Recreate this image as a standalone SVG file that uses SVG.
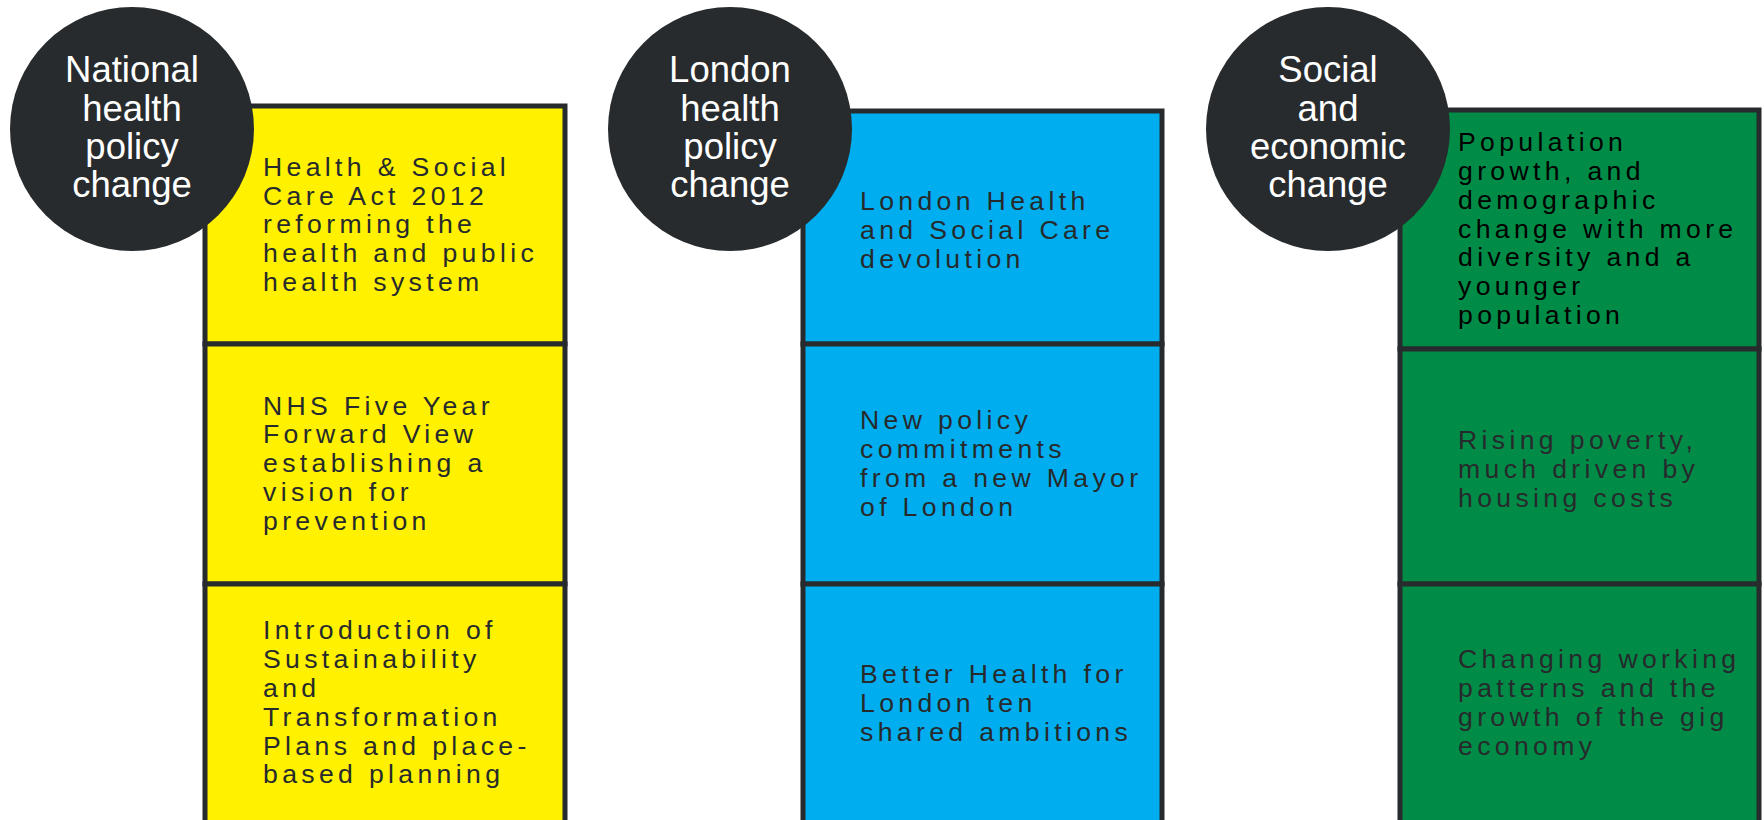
<svg xmlns="http://www.w3.org/2000/svg" width="1764" height="820" viewBox="0 0 1764 820">
<style>
.cell{stroke:#272b2d;stroke-width:5}
.y{fill:#FFF100}
.b{fill:#00AEEF}
.g{fill:#008C47}
.circ{fill:#272b2d}
.ct{font-family:"Liberation Sans",Arial,sans-serif;font-size:36.5px;fill:#ffffff;text-anchor:middle}
.bt{font-family:"Liberation Sans",Arial,sans-serif;font-size:26.6px;letter-spacing:4.35px;fill:#262a2c}
.blk{fill:#000000}
</style>
<rect width="1764" height="820" fill="#ffffff"/>
<g id="col-national">
  <rect class="cell y" x="205" y="106" width="360" height="238"/>
  <rect class="cell y" x="205" y="344" width="360" height="240"/>
  <rect class="cell y" x="205" y="584" width="360" height="250"/>
  <text class="bt" x="263"><tspan x="263" y="176">Health &amp; Social</tspan><tspan x="263" y="204.5">Care Act 2012</tspan><tspan x="263" y="233">reforming the</tspan><tspan x="263" y="261.5">health and public</tspan><tspan x="263" y="290.5">health system</tspan></text>
  <text class="bt"><tspan x="263" y="414.5">NHS Five Year</tspan><tspan x="263" y="443.3">Forward View</tspan><tspan x="263" y="472.2">establishing a</tspan><tspan x="263" y="501">vision for</tspan><tspan x="263" y="530">prevention</tspan></text>
  <text class="bt"><tspan x="263" y="639.3">Introduction of</tspan><tspan x="263" y="668.2">Sustainability</tspan><tspan x="263" y="697">and</tspan><tspan x="263" y="725.8">Transformation</tspan><tspan x="263" y="754.6">Plans and place-</tspan><tspan x="263" y="783.4">based planning</tspan></text>
  <g id="circle-national">
    <circle class="circ" cx="132" cy="129" r="122"/>
    <text class="ct"><tspan x="132" y="82.3">National</tspan><tspan x="132" y="120.6">health</tspan><tspan x="132" y="158.9">policy</tspan><tspan x="132" y="197.2">change</tspan></text>
  </g>
</g>
<g id="col-london">
  <rect class="cell b" x="803" y="111" width="359" height="233"/>
  <rect class="cell b" x="803" y="344" width="359" height="240"/>
  <rect class="cell b" x="803" y="584" width="359" height="250"/>
  <text class="bt"><tspan x="860" y="210">London Health</tspan><tspan x="860" y="239">and Social Care</tspan><tspan x="860" y="267.8">devolution</tspan></text>
  <text class="bt"><tspan x="860" y="428.5">New policy</tspan><tspan x="860" y="458">commitments</tspan><tspan x="860" y="487">from a new Mayor</tspan><tspan x="860" y="515.7">of London</tspan></text>
  <text class="bt"><tspan x="860" y="683.3">Better Health for</tspan><tspan x="860" y="712.2">London ten</tspan><tspan x="860" y="741">shared ambitions</tspan></text>
  <g id="circle-london">
    <circle class="circ" cx="730" cy="129" r="122"/>
    <text class="ct"><tspan x="730" y="82.3">London</tspan><tspan x="730" y="120.6">health</tspan><tspan x="730" y="158.9">policy</tspan><tspan x="730" y="197.2">change</tspan></text>
  </g>
</g>
<g id="col-social">
  <rect class="cell g" x="1400" y="110" width="359" height="239"/>
  <rect class="cell g" x="1400" y="349" width="359" height="235"/>
  <rect class="cell g" x="1400" y="584" width="359" height="250"/>
  <text class="bt blk"><tspan x="1458" y="150.7">Population</tspan><tspan x="1458" y="179.7">growth, and</tspan><tspan x="1458" y="208.6">demographic</tspan><tspan x="1458" y="237.5">change with more</tspan><tspan x="1458" y="266.4">diversity and a</tspan><tspan x="1458" y="295.2">younger</tspan><tspan x="1458" y="324">population</tspan></text>
  <text class="bt"><tspan x="1458" y="449.3">Rising poverty,</tspan><tspan x="1458" y="478.2">much driven by</tspan><tspan x="1458" y="506.8">housing costs</tspan></text>
  <text class="bt"><tspan x="1458" y="668.3">Changing working</tspan><tspan x="1458" y="697.2">patterns and the</tspan><tspan x="1458" y="726">growth of the gig</tspan><tspan x="1458" y="754.8">economy</tspan></text>
  <g id="circle-social">
    <circle class="circ" cx="1328" cy="129" r="122"/>
    <text class="ct"><tspan x="1328" y="82.3">Social</tspan><tspan x="1328" y="120.6">and</tspan><tspan x="1328" y="158.9">economic</tspan><tspan x="1328" y="197.2">change</tspan></text>
  </g>
</g>
<g id="connectors"></g>
</svg>
